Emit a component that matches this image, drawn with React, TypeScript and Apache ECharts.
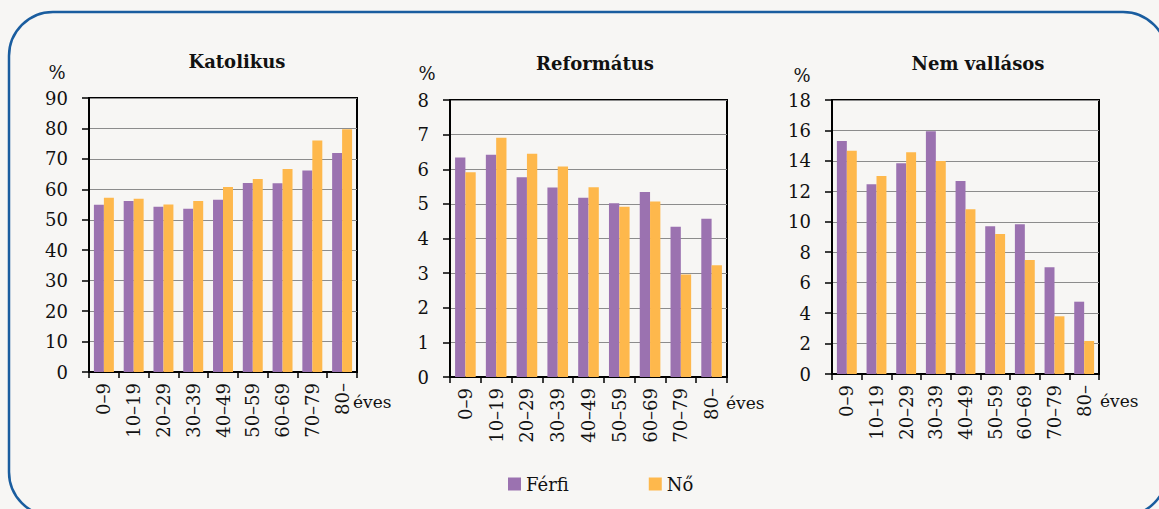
import React, { useEffect, useRef } from "react";
import * as echarts from "echarts";

const categories = ["0–9", "10–19", "20–29", "30–39", "40–49", "50–59", "60–69", "70–79", "80–"];
const seriesNames = ["Férfi", "Nő"];
const panelTitles = ["Katolikus", "Református", "Nem vallásos"];

const katolikusFerfi = [54.9, 56.2, 54.3, 53.6, 56.6, 62.1, 62.0, 66.2, 71.9];
const katolikusNo = [57.2, 56.9, 55.0, 56.2, 60.8, 63.4, 66.7, 76.0, 79.7];
const reformatusFerfi = [6.34, 6.42, 5.77, 5.47, 5.18, 5.02, 5.34, 4.34, 4.57];
const reformatusNo = [5.91, 6.91, 6.45, 6.08, 5.48, 4.92, 5.07, 2.96, 3.23];
const nemVallasosFerfi = [15.31, 12.46, 13.84, 15.94, 12.68, 9.7, 9.83, 7.01, 4.75];
const nemVallasosNo = [14.67, 13.01, 14.56, 13.99, 10.82, 9.2, 7.49, 3.79, 2.17];

const yMax = [90, 8, 18];
const yInterval = [10, 1, 2];

const FONT = "DejaVu Serif";
const PURPLE = "#9b72b0";
const ORANGE = "#feb84c";
const BG = "#f7f6f4";

export default function App() {
  const ref = useRef<HTMLDivElement>(null);

  useEffect(() => {
    if (!ref.current) return;
    const chart = echarts.init(ref.current, undefined, { renderer: "svg" });

    const grids = [
      { left: 89, top: 98, width: 268, height: 274 },
      { left: 450, top: 100, width: 277, height: 277 },
      { left: 832, top: 100, width: 267, height: 274 },
    ];
    const titleX = [232, 590, 973];
    const titleY = [60, 62, 62];
    const pctPos = [
      [57, 72],
      [427, 73],
      [802, 75],
    ];
    const evesPos = [
      [353, 402],
      [726, 403],
      [1100, 401],
    ];
    const data = [
      [katolikusFerfi, katolikusNo],
      [reformatusFerfi, reformatusNo],
      [nemVallasosFerfi, nemVallasosNo],
    ];

    const series: any[] = [];
    data.forEach((pair, i) => {
      pair.forEach((vals, j) => {
        series.push({
          name: seriesNames[j],
          type: "bar",
          xAxisIndex: i,
          yAxisIndex: i,
          data: vals,
          barGap: "0%",
          barCategoryGap: "33%",
          itemStyle: { color: j === 0 ? PURPLE : ORANGE },
        });
      });
    });

    const graphics: any[] = [
      {
        type: "rect",
        shape: { x: 9, y: 12, width: 1158, height: 504, r: 44 },
        style: { fill: "none", stroke: "#1a5d9f", lineWidth: 2.5 },
        z: -10,
      },
    ];
    pctPos.forEach((p) => {
      graphics.push({
        type: "text",
        x: p[0],
        y: p[1],
        style: {
          text: "%",
          fontFamily: FONT,
          fontSize: 18,
          fill: "#111",
          textAlign: "center",
          textVerticalAlign: "middle",
        },
      });
    });
    evesPos.forEach((p) => {
      graphics.push({
        type: "text",
        x: p[0],
        y: p[1],
        style: {
          text: "éves",
          fontFamily: FONT,
          fontSize: 17,
          fill: "#111",
          textAlign: "left",
          textVerticalAlign: "middle",
        },
      });
    });

    chart.setOption({
      animation: false,
      backgroundColor: BG,
      textStyle: { fontFamily: FONT },
      title: panelTitles.map((t, i) => ({
        text: t,
        left: titleX[i],
        top: titleY[i] - 13,
        textAlign: "center",
        textStyle: { fontFamily: FONT, fontSize: 18, fontWeight: "bold", color: "#111" },
      })),
      legend: {
        data: seriesNames,
        left: 503,
        top: 470,
        icon: "rect",
        itemWidth: 13,
        itemHeight: 13,
        itemGap: 80,
        textStyle: { fontFamily: FONT, fontSize: 18, color: "#111" },
      },
      grid: grids.map((g) => ({
        ...g,
        show: true,
        borderColor: "#000",
        borderWidth: 2,
        backgroundColor: "transparent",
        containLabel: false,
      })),
      xAxis: grids.map((_, i) => ({
        type: "category",
        gridIndex: i,
        data: categories,
        axisLine: { show: true, lineStyle: { color: "#000", width: 2 } },
        axisTick: { show: true, length: 6, lineStyle: { color: "#000", width: 1.5 } },
        axisLabel: {
          rotate: 90,
          margin: 11,
          fontFamily: FONT,
          fontSize: 18,
          color: "#111",
          interval: 0,
        },
      })),
      yAxis: grids.map((_, i) => ({
        type: "value",
        gridIndex: i,
        min: 0,
        max: yMax[i],
        interval: yInterval[i],
        axisLine: { show: true, lineStyle: { color: "#000", width: 2 } },
        axisTick: { show: true, length: 7, lineStyle: { color: "#000", width: 1.5 } },
        axisLabel: { margin: 21, fontFamily: FONT, fontSize: 18, color: "#111" },
        splitLine: { show: true, lineStyle: { color: "#8c8c8c", width: 1.2 } },
      })),
      series,
      graphic: graphics,
    });

    return () => chart.dispose();
  }, []);

  return (
    <div
      ref={ref}
      style={{ position: "absolute", left: 0, top: 0, width: 1159, height: 509, background: BG }}
    />
  );
}
